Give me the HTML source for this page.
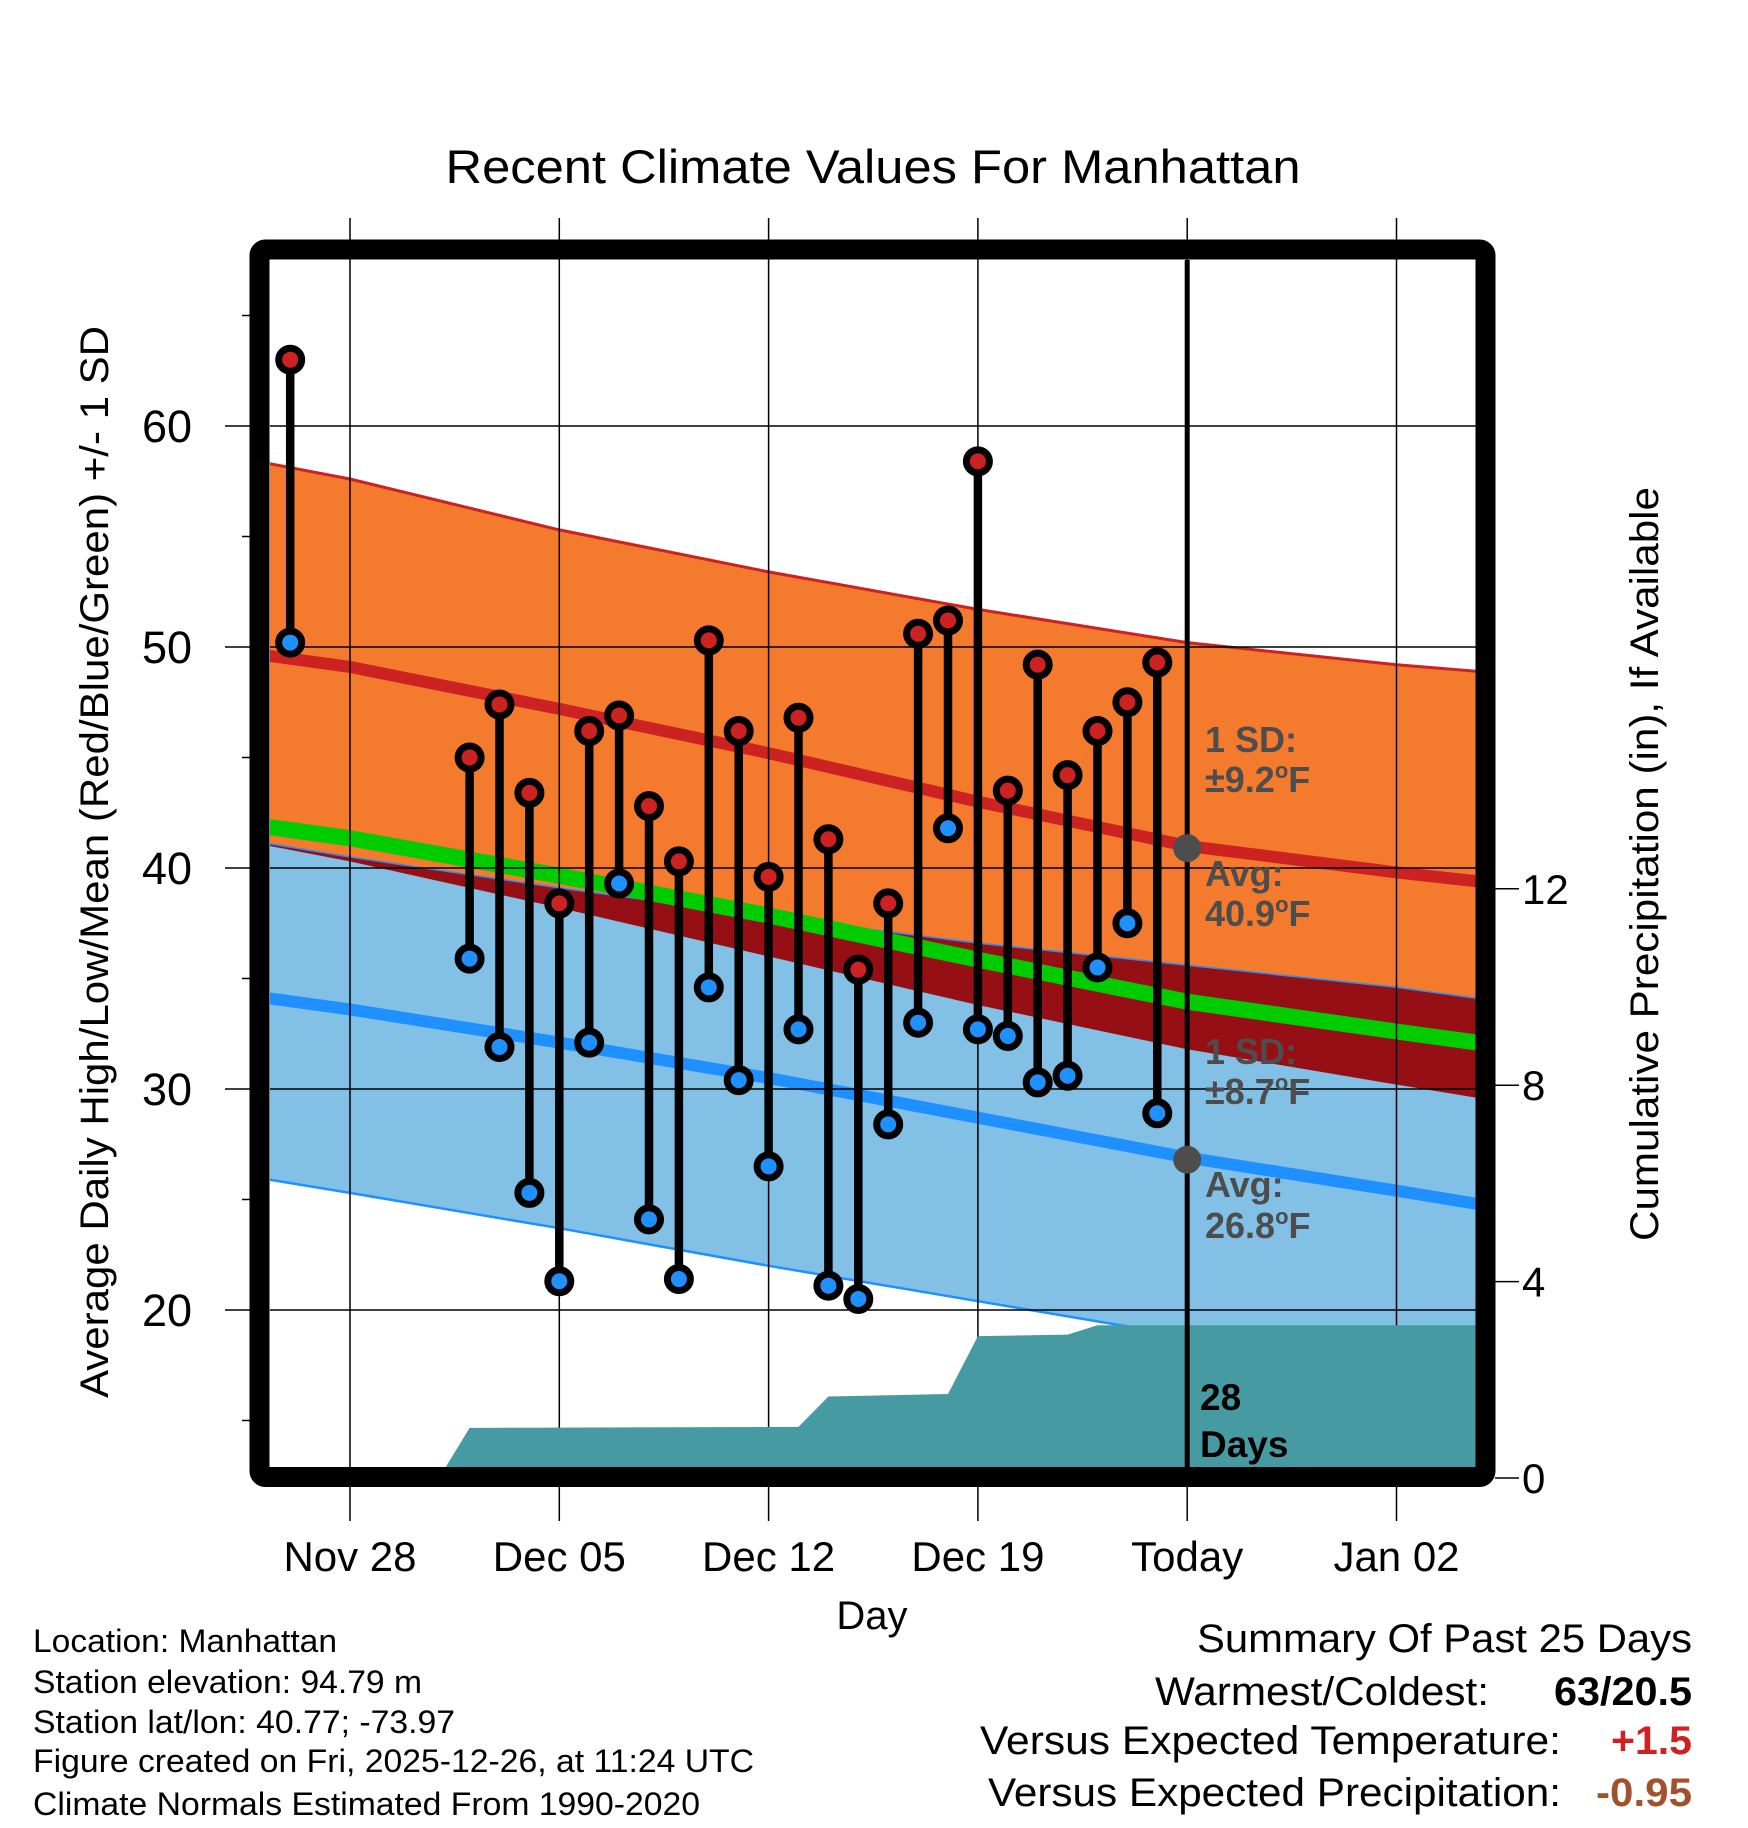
<!DOCTYPE html>
<html><head><meta charset="utf-8"><style>
html,body{margin:0;padding:0;background:#fff;}
svg{display:block;font-family:"Liberation Sans",Arial,sans-serif;}
</style></head><body>
<svg id="chart" width="1748" height="1828" viewBox="0 0 1748 1828" xmlns="http://www.w3.org/2000/svg">
<rect x="0" y="0" width="1748" height="1828" fill="#fff"/>
<defs><clipPath id="plotclip"><rect x="270" y="260" width="1206" height="1208"/></clipPath></defs>
<text x="873" y="183" font-size="47" text-anchor="middle" textLength="855" lengthAdjust="spacingAndGlyphs">Recent Climate Values For Manhattan</text>
<g id="plot" clip-path="url(#plotclip)"></g>
<g id="over"></g>
<text transform="translate(108,862) rotate(-90)" font-size="40" text-anchor="middle" textLength="1072" lengthAdjust="spacingAndGlyphs">Average Daily High/Low/Mean (Red/Blue/Green) +/- 1 SD</text>
<text transform="translate(1658,864) rotate(-90)" font-size="40" text-anchor="middle" textLength="754" lengthAdjust="spacingAndGlyphs">Cumulative Precipitation (in), If Available</text>
<text x="872" y="1629" font-size="40" text-anchor="middle">Day</text>
<g font-size="32">
<text x="33" y="1652" textLength="304" lengthAdjust="spacingAndGlyphs">Location: Manhattan</text>
<text x="33" y="1693" textLength="389" lengthAdjust="spacingAndGlyphs">Station elevation: 94.79 m</text>
<text x="33" y="1733" textLength="422" lengthAdjust="spacingAndGlyphs">Station lat/lon: 40.77; -73.97</text>
<text x="33" y="1772" textLength="721" lengthAdjust="spacingAndGlyphs">Figure created on Fri, 2025-12-26, at 11:24 UTC</text>
<text x="33" y="1815" textLength="667" lengthAdjust="spacingAndGlyphs">Climate Normals Estimated From 1990-2020</text>
</g>
<g font-size="40">
<text x="1692" y="1652" text-anchor="end" textLength="495" lengthAdjust="spacingAndGlyphs">Summary Of Past 25 Days</text>
<text x="1155" y="1705" textLength="334" lengthAdjust="spacingAndGlyphs">Warmest/Coldest:</text>
<text x="1692" y="1705" text-anchor="end" font-weight="bold" textLength="138" lengthAdjust="spacingAndGlyphs">63/20.5</text>
<text x="980" y="1754" textLength="581" lengthAdjust="spacingAndGlyphs">Versus Expected Temperature:</text>
<text x="1692" y="1754" text-anchor="end" font-weight="bold" fill="#CC2222" textLength="81" lengthAdjust="spacingAndGlyphs">+1.5</text>
<text x="988" y="1806" textLength="573" lengthAdjust="spacingAndGlyphs">Versus Expected Precipitation:</text>
<text x="1692" y="1806" text-anchor="end" font-weight="bold" fill="#A0522D" textLength="96" lengthAdjust="spacingAndGlyphs">-0.95</text>
</g>
<script>
// ---- data ----
const highDays = [-2,4,5,6,7,8,9,10,11,12,13,14,15,16,17,18,19,20,21,22,23,24,25,26,27];
const highs = [63.0,45.0,47.4,43.4,38.4,46.2,46.9,42.8,40.3,50.3,46.2,39.6,46.8,41.3,35.4,38.4,50.6,51.2,58.4,43.5,49.2,44.2,46.2,47.5,49.3];
const lows  = [50.2,35.9,31.9,25.3,21.3,32.1,39.3,24.1,21.4,34.6,30.4,26.5,32.7,21.1,20.5,28.4,33.0,41.8,32.7,32.4,30.3,30.6,35.5,37.5,28.9];
const normDays = [-2.7,0,7,14,21,28,35,37.7];
const hiUpper = [58.3,57.6,55.3,53.4,51.7,50.2,49.2,48.9];
const hiAvg   = [49.6,49.1,47.2,45.2,43.0,41.0,39.8,39.4];
const hiLower = [41.0,40.3,38.2,36.0,33.8,31.8,30.2,29.6];
const loUpper = [41.1,40.5,39.1,37.8,36.6,35.6,34.6,34.1];
const loAvg   = [34.1,33.6,32.1,30.5,28.7,26.9,25.4,24.8];
const loLower = [25.9,25.3,23.7,22.0,20.4,18.8,17.1,16.5];
const precipDays = [-2.7,2,3,4,15,16,20,21,24,25,37.7];
const precip     = [0,0.01,0.02,1.02,1.04,1.66,1.71,2.89,2.92,3.11,3.11];
const yTicks = [20,30,40,50,60];
const yMinor = [15,25,35,45,55,65];
const y2Ticks = [0,4,8,12];
const xTickDays = [0,7,14,21,28,35];
const xTickLabels = ["Nov 28","Dec 05","Dec 12","Dec 19","Today","Jan 02"];
// ---- scales ----
const X = d => 350 + d*29.9;
const Y = v => 647 - (v-50)*22.1;
const YP = p => 1478 - p*49.1;
const NS = "http://www.w3.org/2000/svg";
const plot = document.getElementById('plot');
const over = document.getElementById('over');
function mk(tag, attrs, parent){const e=document.createElementNS(NS,tag);for(const k in attrs)e.setAttribute(k,attrs[k]);parent.appendChild(e);return e;}
const pts = arr => normDays.map((d,i)=>X(d).toFixed(1)+','+Y(arr[i]).toFixed(1));
function band(top,bot){return pts(top).concat(pts(bot).reverse()).join(' ');}
const mean = hiAvg.map((h,i)=>(h+loAvg[i])/2);

let e;
e = mk('polygon',{points:band(hiUpper,hiLower),fill:'#F47A2D'},plot);


e = mk('polygon',{points:band(loUpper,loLower),fill:'#82C0E6'},plot);


const overlapTop = loUpper.map((v,i)=>Math.max(v,hiLower[i]));
e = mk('polygon',{points:band(overlapTop,hiLower),fill:'#950F15'},plot);


e = mk('polyline',{points:pts(hiUpper).join(' '),fill:'none',stroke:'#CC2222','stroke-width':3},plot);


e = mk('polyline',{points:pts(loUpper).join(' '),fill:'none',stroke:'#1E90FF','stroke-width':1.5},plot);


e = mk('polyline',{points:pts(loLower).join(' '),fill:'none',stroke:'#1E90FF','stroke-width':2.5},plot);


e = mk('polyline',{points:pts(hiAvg).join(' '),fill:'none',stroke:'#CC2222','stroke-width':12,'stroke-linejoin':'round'},plot);


e = mk('polyline',{points:pts(loAvg).join(' '),fill:'none',stroke:'#1E90FF','stroke-width':12,'stroke-linejoin':'round'},plot);


e = mk('polyline',{points:pts(mean).join(' '),fill:'none',stroke:'#00CC00','stroke-width':16,'stroke-linejoin':'round'},plot);



// gridlines
yTicks.forEach(v=>{
  const g = mk('line',{x1:270,x2:1476,y1:Y(v),y2:Y(v),stroke:'#000','stroke-width':1.5},plot);
  
  
});
xTickDays.forEach((d,i)=>{
  if(i===4) return;
  const g = mk('line',{x1:X(d),x2:X(d),y1:218,y2:1521,stroke:'#000','stroke-width':1.5},over);
  
  
});

// precipitation area
const pp = precipDays.map((d,i)=>X(d).toFixed(1)+','+YP(precip[i]).toFixed(1));
pp.push(X(37.7)+','+1480, X(-2.7)+','+1480);
e = mk('polygon',{points:pp.join(' '),fill:'#469AA2'},over);



// today line
e = mk('line',{x1:X(28),x2:X(28),y1:218,y2:1521,stroke:'#000','stroke-width':1.5},over);


e = mk('line',{x1:X(28),x2:X(28),y1:260,y2:1468,stroke:'#000','stroke-width':5},over);



// avg dots and labels
e = mk('circle',{cx:X(28),cy:Y(40.9),r:14,fill:'#4d4d4d'},over);


e = mk('circle',{cx:X(28),cy:Y(26.8),r:14,fill:'#4d4d4d'},over);


const labs = [["1 SD:","",752],["±9.2","deg",792],["Avg:","",886],["40.9","deg",926],["1 SD:","",1064],["±8.7","deg",1104],["Avg:","",1197],["26.8","deg",1238]];
labs.forEach(l=>{
  const t = mk('text',{x:1205,y:l[2],'font-size':36,'font-weight':'bold',fill:'#4d4d4d'},over);
  
  
  t.appendChild(document.createTextNode(l[0]));
  if(l[1]){
    const s1 = mk('tspan',{dy:-14,'font-size':22},t); s1.textContent='o';
    const s2 = mk('tspan',{dy:14},t); s2.textContent='F';
  }
});
[["28",1410],["Days",1457]].forEach(l=>{
  const t = mk('text',{x:1200,y:l[1],'font-size':37,'font-weight':'bold',fill:'#000'},over);
  t.textContent = l[0];
  
  
});

// stems & markers
highDays.forEach((d,i)=>{
  const s = mk('line',{x1:X(d),x2:X(d),y1:Y(highs[i]),y2:Y(lows[i]),stroke:'#000','stroke-width':8.5},over);
  
  
  const h = mk('circle',{cx:X(d),cy:Y(highs[i]),r:11.5,fill:'#CC2222',stroke:'#000','stroke-width':7},over);
  
  
  const lo = mk('circle',{cx:X(d),cy:Y(lows[i]),r:11.5,fill:'#1E90FF',stroke:'#000','stroke-width':7},over);
  
  
});

// frame
e = mk('rect',{x:259.5,y:249.5,width:1226,height:1227.5,fill:'none',stroke:'#000','stroke-width':20,rx:6},over);



// y ticks
yTicks.forEach(v=>{
  const t = mk('line',{x1:225,x2:250,y1:Y(v),y2:Y(v),stroke:'#000','stroke-width':1.5},over);
  
  
  const l = mk('text',{x:192,y:Y(v)+16,'font-size':45,'text-anchor':'end'},over);
  l.textContent = v;
  
  
});
yMinor.forEach(v=>{
  const t = mk('line',{x1:242,x2:250,y1:Y(v),y2:Y(v),stroke:'#000','stroke-width':1.5},over);
  
  
});
y2Ticks.forEach(p=>{
  const t = mk('line',{x1:1495,x2:1519,y1:YP(p),y2:YP(p),stroke:'#000','stroke-width':1.5},over);
  
  
  const l = mk('text',{x:1522,y:YP(p)+15,'font-size':42},over);
  l.textContent = p;
  
  
});
xTickDays.forEach((d,i)=>{
  const l = mk('text',{x:X(d),y:1571,'font-size':42,'text-anchor':'middle'},over);
  l.textContent = xTickLabels[i];
  
  
});
</script>
</svg>
</body></html>
